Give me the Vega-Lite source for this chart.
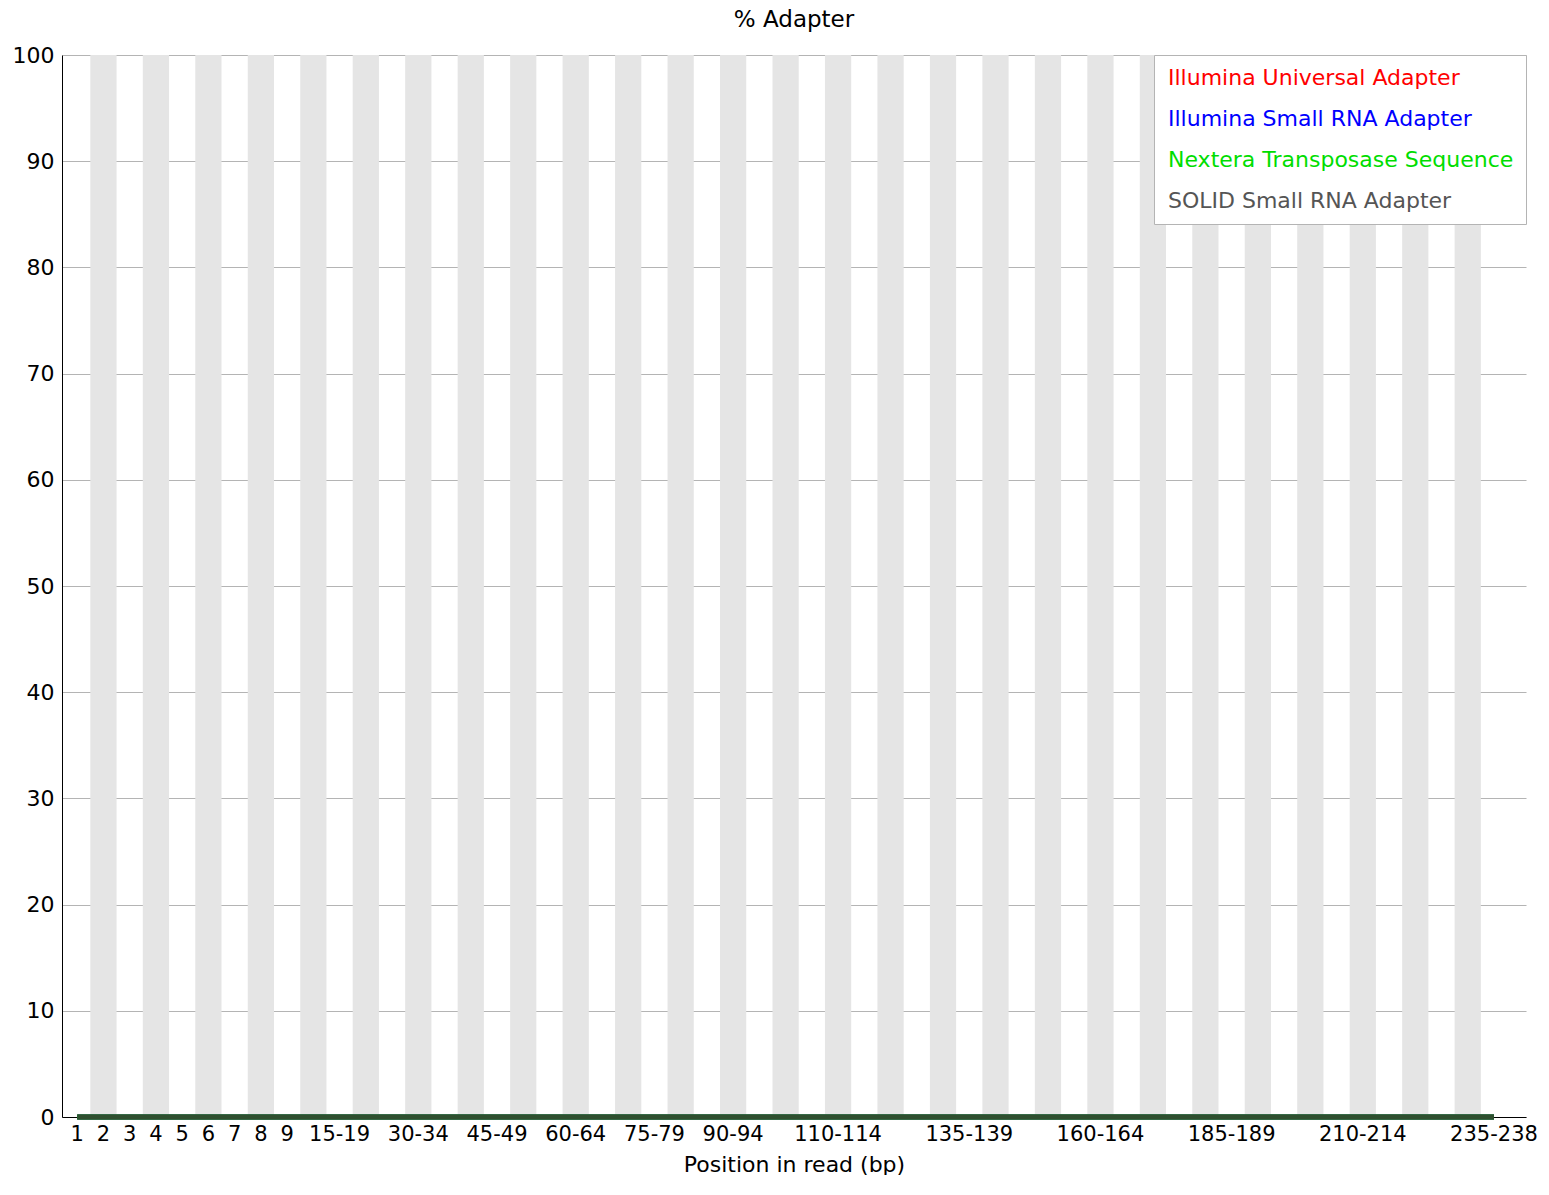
{
"$schema":"https://vega.github.io/schema/vega-lite/v6.json",
"width":1464,"height":1062,
"padding":{"left":12,"top":9,"right":0,"bottom":0},
"background":"white",
"title":{"text":"% Adapter","font":"DejaVu Sans","fontSize":23,"fontWeight":"normal","color":"black","offset":12},
"config":{"font":"DejaVu Sans","view":{"stroke":null},"axis":{"labelFont":"DejaVu Sans","titleFont":"DejaVu Sans"}},
"data":{"values":[
{"pos":"1","a":0,"b":0,"c":0,"d":0},{"pos":"2","a":0,"b":0,"c":0,"d":0},{"pos":"3","a":0,"b":0,"c":0,"d":0},{"pos":"4","a":0,"b":0,"c":0,"d":0},{"pos":"5","a":0,"b":0,"c":0,"d":0},{"pos":"6","a":0,"b":0,"c":0,"d":0},{"pos":"7","a":0,"b":0,"c":0,"d":0},{"pos":"8","a":0,"b":0,"c":0,"d":0},{"pos":"9","a":0,"b":0,"c":0,"d":0},
{"pos":"10-14","a":0,"b":0,"c":0,"d":0},{"pos":"15-19","a":0,"b":0,"c":0,"d":0},{"pos":"20-24","a":0,"b":0,"c":0,"d":0},{"pos":"25-29","a":0,"b":0,"c":0,"d":0},{"pos":"30-34","a":0,"b":0,"c":0,"d":0},{"pos":"35-39","a":0,"b":0,"c":0,"d":0},{"pos":"40-44","a":0,"b":0,"c":0,"d":0},{"pos":"45-49","a":0,"b":0,"c":0,"d":0},{"pos":"50-54","a":0,"b":0,"c":0,"d":0},{"pos":"55-59","a":0,"b":0,"c":0,"d":0},{"pos":"60-64","a":0,"b":0,"c":0,"d":0},{"pos":"65-69","a":0,"b":0,"c":0,"d":0},{"pos":"70-74","a":0,"b":0,"c":0,"d":0},{"pos":"75-79","a":0,"b":0,"c":0,"d":0},{"pos":"80-84","a":0,"b":0,"c":0,"d":0},{"pos":"85-89","a":0,"b":0,"c":0,"d":0},{"pos":"90-94","a":0,"b":0,"c":0,"d":0},{"pos":"95-99","a":0,"b":0,"c":0,"d":0},{"pos":"100-104","a":0,"b":0,"c":0,"d":0},{"pos":"105-109","a":0,"b":0,"c":0,"d":0},{"pos":"110-114","a":0,"b":0,"c":0,"d":0},{"pos":"115-119","a":0,"b":0,"c":0,"d":0},{"pos":"120-124","a":0,"b":0,"c":0,"d":0},{"pos":"125-129","a":0,"b":0,"c":0,"d":0},{"pos":"130-134","a":0,"b":0,"c":0,"d":0},{"pos":"135-139","a":0,"b":0,"c":0,"d":0},{"pos":"140-144","a":0,"b":0,"c":0,"d":0},{"pos":"145-149","a":0,"b":0,"c":0,"d":0},{"pos":"150-154","a":0,"b":0,"c":0,"d":0},{"pos":"155-159","a":0,"b":0,"c":0,"d":0},{"pos":"160-164","a":0,"b":0,"c":0,"d":0},{"pos":"165-169","a":0,"b":0,"c":0,"d":0},{"pos":"170-174","a":0,"b":0,"c":0,"d":0},{"pos":"175-179","a":0,"b":0,"c":0,"d":0},{"pos":"180-184","a":0,"b":0,"c":0,"d":0},{"pos":"185-189","a":0,"b":0,"c":0,"d":0},{"pos":"190-194","a":0,"b":0,"c":0,"d":0},{"pos":"195-199","a":0,"b":0,"c":0,"d":0},{"pos":"200-204","a":0,"b":0,"c":0,"d":0},{"pos":"205-209","a":0,"b":0,"c":0,"d":0},{"pos":"210-214","a":0,"b":0,"c":0,"d":0},{"pos":"215-219","a":0,"b":0,"c":0,"d":0},{"pos":"220-224","a":0,"b":0,"c":0,"d":0},{"pos":"225-229","a":0,"b":0,"c":0,"d":0},{"pos":"230-234","a":0,"b":0,"c":0,"d":0},{"pos":"235-238","a":0,"b":0,"c":0,"d":0}
]},
"encoding":{
"x":{"field":"pos","type":"ordinal","sort":null,"scale":{"domain":["1","2","3","4","5","6","7","8","9","10-14","15-19","20-24","25-29","30-34","35-39","40-44","45-49","50-54","55-59","60-64","65-69","70-74","75-79","80-84","85-89","90-94","95-99","100-104","105-109","110-114","115-119","120-124","125-129","130-134","135-139","140-144","145-149","150-154","155-159","160-164","165-169","170-174","175-179","180-184","185-189","190-194","195-199","200-204","205-209","210-214","215-219","220-224","225-229","230-234","235-238"],"paddingInner":0,"paddingOuter":0.4,"align":0.1},
"axis":{"title":"Position in read (bp)","titleFontSize":22,"titleFontWeight":"normal","titlePadding":10,"labelFontSize":21,"labelAngle":0,"labelColor":"black","labelOverlap":false,"labelPadding":6,"ticks":false,"domainColor":"black","grid":false,
"labelExpr":"indexof(['1','2','3','4','5','6','7','8','9','15-19','30-34','45-49','60-64','75-79','90-94','110-114','135-139','160-164','185-189','210-214','235-238'], datum.value) >= 0 ? datum.value : ''"}}
},
"layer":[
{"transform":[{"window":[{"op":"row_number","as":"rn"}]},{"filter":"datum.rn % 2 == 0"}],
 "mark":{"type":"bar","color":"#e5e5e5","width":{"band":1}},
 "encoding":{"y":{"datum":100,"type":"quantitative","scale":{"domain":[0,100]},
  "axis":{"title":null,"values":[0,10,20,30,40,50,60,70,80,90,100],"labelFontSize":22,"labelColor":"black","ticks":false,"domainColor":"black","grid":true,"gridColor":"#b4b4b4","gridWidth":1.2,"labelPadding":8}},
  "y2":{"datum":0}}},
{"transform":[{"fold":["a","b","c","d"],"as":["k","v"]},
 {"calculate":"{'a':'Illumina Universal Adapter','b':'Illumina Small RNA Adapter','c':'Nextera Transposase Sequence','d':'SOLID Small RNA Adapter'}[datum.k]","as":"series"}],
 "mark":{"type":"line","strokeWidth":5},
 "encoding":{"y":{"field":"v","type":"quantitative"},
  "color":{"field":"series","type":"nominal","sort":null,
   "scale":{"domain":["Illumina Universal Adapter","Illumina Small RNA Adapter","Nextera Transposase Sequence","SOLID Small RNA Adapter"],"range":["#ff0000","#0000ff","#00cc00","#2f4f2f"]},
   "legend":{"title":null,"orient":"top-right","offset":0,"symbolOpacity":0,"symbolSize":0,"symbolStrokeWidth":0,"labelFontSize":22,"labelLimit":0,"labelOffset":-20,"rowPadding":19,"padding":12,"strokeColor":"#b4b4b4","fillColor":"white",
    "labelColor":{"expr":"datum.label=='Illumina Universal Adapter'?'#ff0000':datum.label=='Illumina Small RNA Adapter'?'#0000ff':datum.label=='Nextera Transposase Sequence'?'#00dd00':'#555555'"}}}}}
]
}
